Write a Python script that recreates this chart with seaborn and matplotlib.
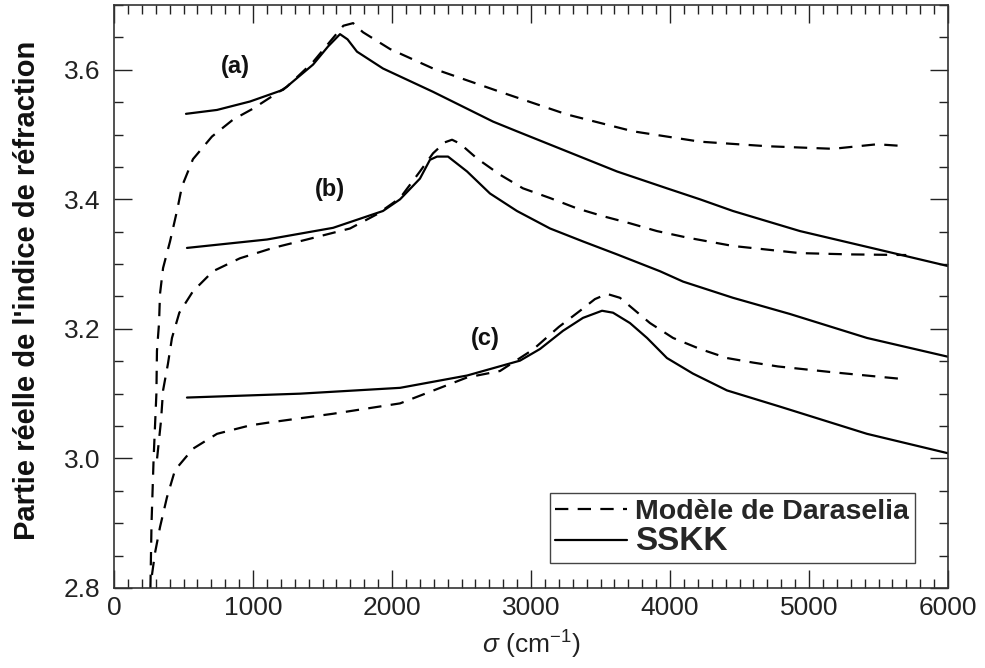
import matplotlib
matplotlib.use("Agg")
import matplotlib.pyplot as plt
from matplotlib.ticker import MultipleLocator
import numpy as np
import pandas as pd
import seaborn as sns

# ---------------- data ----------------
# Daraselia model (dashed)
dar_a_x = [262, 270, 285, 305, 309, 324, 331, 353, 403, 453, 489, 568, 705, 856, 1000, 1245, 1432,
           1560, 1650, 1720, 1791, 1986, 2295, 2777, 3259, 3734, 4216, 4698, 5173, 5489, 5700]
dar_a_y = [2.80, 2.90, 3.00, 3.10, 3.166, 3.209, 3.254, 3.294, 3.335, 3.382, 3.420, 3.462, 3.497, 3.523,
           3.540, 3.574, 3.612, 3.645, 3.668, 3.672, 3.658, 3.632, 3.602, 3.566, 3.531, 3.505, 3.489,
           3.482, 3.478, 3.485, 3.482]

dar_b_x = [310, 338, 353, 388, 417, 470, 568, 712, 906, 1144, 1388, 1698, 1892, 2058, 2201, 2295, 2380,
           2432, 2489, 2612, 2777, 2942, 3137, 3331, 3518, 3712, 3906, 4122, 4453, 4935, 5295, 5700]
dar_b_y = [3.00, 3.058, 3.105, 3.146, 3.186, 3.225, 3.258, 3.289, 3.309, 3.325, 3.338, 3.355, 3.377,
           3.402, 3.443, 3.471, 3.488, 3.492, 3.486, 3.463, 3.438, 3.417, 3.402, 3.386, 3.374, 3.363,
           3.351, 3.341, 3.328, 3.317, 3.315, 3.314]

dar_c_x = [273, 295, 331, 381, 439, 568, 741, 978, 1101, 1576, 2058, 2540, 2777, 3014, 3200, 3353,
           3460, 3547, 3640, 3712, 3856, 4022, 4216, 4410, 4597, 4777, 5173, 5655]
dar_c_y = [2.82, 2.854, 2.894, 2.940, 2.982, 3.015, 3.038, 3.051, 3.055, 3.069, 3.085, 3.125, 3.135,
           3.168, 3.203, 3.228, 3.246, 3.254, 3.248, 3.235, 3.209, 3.186, 3.169, 3.155, 3.148, 3.142,
           3.133, 3.123]

# SSKK (solid)
sskk_a_x = [518, 741, 978, 1216, 1432, 1540, 1626, 1680, 1748, 1935, 2295, 2727, 2899, 3259, 3619,
            3978, 4216, 4453, 4935, 5489, 6000]
sskk_a_y = [3.532, 3.538, 3.551, 3.569, 3.608, 3.636, 3.655, 3.647, 3.628, 3.602, 3.566, 3.520, 3.505,
            3.474, 3.443, 3.417, 3.400, 3.382, 3.351, 3.323, 3.297]

sskk_b_x = [525, 1101, 1576, 1935, 2058, 2201, 2273, 2324, 2403, 2540, 2705, 2899, 3137, 3374, 3619,
            3928, 4094, 4453, 4863, 5417, 6000]
sskk_b_y = [3.325, 3.338, 3.356, 3.382, 3.400, 3.432, 3.461, 3.466, 3.466, 3.443, 3.409, 3.382, 3.355,
            3.335, 3.315, 3.289, 3.273, 3.248, 3.223, 3.186, 3.157]

sskk_c_x = [525, 1338, 2058, 2540, 2921, 3065, 3230, 3374, 3511, 3590, 3712, 3835, 3978, 4165, 4410,
            4791, 5417, 6000]
sskk_c_y = [3.094, 3.100, 3.109, 3.128, 3.151, 3.169, 3.197, 3.217, 3.228, 3.225, 3.209, 3.186, 3.155,
            3.131, 3.105, 3.080, 3.038, 3.008]

curve_labels = ["(a)", "(b)", "(c)"]
legend_labels = ["Modèle de Daraselia", "SSKK"]
x_label = r"$\sigma$ (cm$^{-1}$)"
y_label = "Partie réelle de l'indice de réfraction"

# ---------------- build long table ----------------
frames = []
for model, sample, xs, ys in [
    ("dar", "a", dar_a_x, dar_a_y), ("dar", "b", dar_b_x, dar_b_y), ("dar", "c", dar_c_x, dar_c_y),
    ("sskk", "a", sskk_a_x, sskk_a_y), ("sskk", "b", sskk_b_x, sskk_b_y), ("sskk", "c", sskk_c_x, sskk_c_y),
]:
    frames.append(pd.DataFrame({"sigma": xs, "n": ys, "model": model, "curve": model + sample}))
df = pd.concat(frames, ignore_index=True)

# ---------------- style ----------------
sns.set_style("ticks")
plt.rcParams["font.family"] = ["Liberation Sans", "DejaVu Sans"]
plt.rcParams["mathtext.fontset"] = "custom"
plt.rcParams["mathtext.rm"] = "Liberation Sans"
plt.rcParams["mathtext.it"] = "Liberation Sans:italic"

fig = plt.figure(figsize=(9.85, 6.68), dpi=100)
ax = fig.add_axes([114 / 985, 1 - 588 / 668, 834 / 985, 583 / 668])

sns.lineplot(data=df, x="sigma", y="n", style="model", units="curve", estimator=None, sort=False,
             dashes={"dar": (6, 4.2), "sskk": ""}, color="black", linewidth=1.6, legend=False, ax=ax)

ax.set_xlim(0, 6000)
ax.set_ylim(2.8, 3.7)
ax.xaxis.set_major_locator(MultipleLocator(1000))
ax.xaxis.set_minor_locator(MultipleLocator(100))
ax.yaxis.set_major_locator(MultipleLocator(0.2))
ax.yaxis.set_minor_locator(MultipleLocator(0.05))
ax.tick_params(which="both", direction="in", top=True, right=True, colors="#222", labelsize=19)
ax.tick_params(which="major", length=13, width=1.0)
ax.tick_params(which="minor", length=6.5, width=1.0)
ax.tick_params(axis="x", pad=6)
ax.tick_params(axis="y", pad=10)
for sp in ax.spines.values():
    sp.set_linewidth(1.2)
    sp.set_color("#333")

ax.set_xlabel(x_label, fontsize=19, color="#222", labelpad=6)
ax.set_ylabel(y_label, fontsize=21, fontweight="bold", color="#111")
ax.yaxis.set_label_coords(-0.088, 0.51)

# curve annotations
label_pos = [(870, 3.605), (1554, 3.415), (2669, 3.185)]
for txt, (tx, ty) in zip(curve_labels, label_pos):
    ax.text(tx, ty, txt, ha="center", va="center", fontsize=17, fontweight="bold", color="#111")

# legend from the drawn lines
lines = ax.get_lines()
h_dash = next(l for l in lines if l.get_linestyle() == "--")
h_solid = next(l for l in lines if l.get_linestyle() == "-")
leg = ax.legend([h_dash, h_solid], legend_labels, loc="lower right", bbox_to_anchor=(0.960, 0.043),
                frameon=True, fancybox=False, edgecolor="#444", framealpha=1,
                prop=dict(weight="bold", size=20.5), handlelength=2.5, handletextpad=0.3,
                borderpad=0.2, labelspacing=0.05, borderaxespad=0)
leg.get_frame().set_linewidth(1.0)
leg.get_texts()[1].set_fontsize(24)

fig.savefig("out.png", dpi=100)
